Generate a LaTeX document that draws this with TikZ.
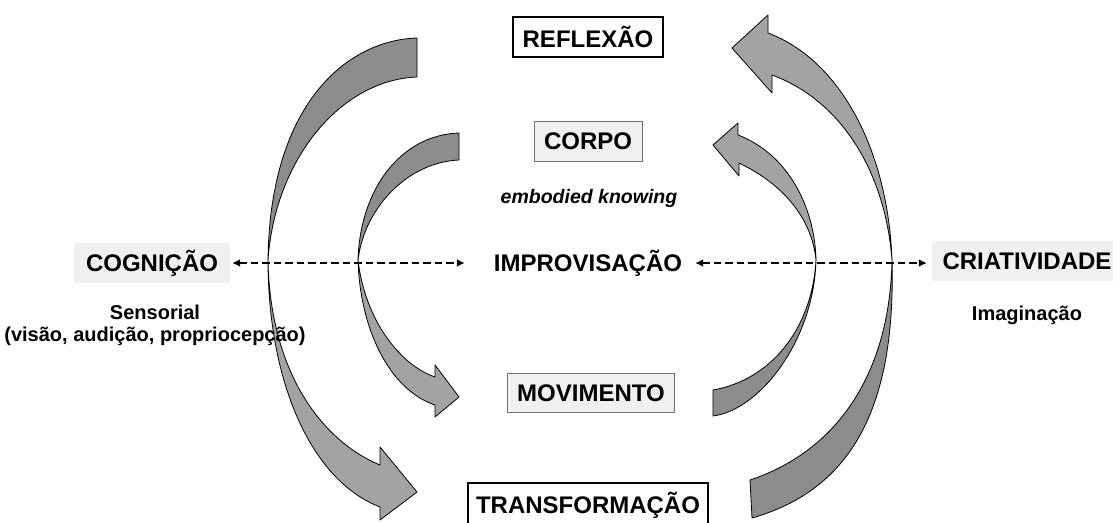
\documentclass[tikz,border=0pt]{standalone}
\usepackage{fontspec}
\setmainfont{Liberation Sans}
\usetikzlibrary{arrows.meta,calc}
\definecolor{ribbondark}{gray}{0.55}
\definecolor{ribbonlight}{gray}{0.64}
\definecolor{boxgray}{gray}{0.94}

\begin{document}
\begin{tikzpicture}[x=1pt,y=-1pt]
\tikzstyle{ribbon} = [draw=black, line width=0.8pt, line join=round]
\tikzstyle{term} = [font=\fontsize{24}{28}\selectfont\bfseries, inner sep=3pt, minimum height=40pt]
\tikzstyle{framed} = [term, draw=black, line width=1.8pt, fill=white]
\tikzstyle{soft} = [term, draw=black!55, line width=1pt, fill=boxgray]
\tikzstyle{plain} = [term, fill=boxgray]
\tikzstyle{subnote} = [font=\fontsize{20}{22}\selectfont\bfseries, align=center]
\tikzstyle{link} = [line width=2.2pt, dash pattern=on 7.5pt off 4pt, {Latex[length=8pt,width=8pt]}-{Latex[length=8pt,width=8pt]}]
\useasboundingbox (0,0) rectangle (1113,522);
\coordinate (LO) at (268,260);
\coordinate (LI) at (358,260);
\coordinate (RI) at (816,260);
\coordinate (RO) at (892,260);
\filldraw[ribbon, fill=ribbondark] (417,38) .. controls (350,40) and (270,100) .. (LO) .. controls (275,160) and (340,80) .. (417,77) -- cycle;
\filldraw[ribbon, fill=ribbonlight] (LO) .. controls (268,380) and (310,480) .. (380,507) -- (380,520) -- (417,492) -- (380,447) -- (380,465) .. controls (320,440) and (270,370) .. (LO) -- cycle;
\filldraw[ribbon, fill=ribbondark] (459,133) .. controls (400,135) and (360,190) .. (LI) .. controls (365,205) and (410,162) .. (459,160) -- cycle;
\filldraw[ribbon, fill=ribbonlight] (LI) .. controls (360,330) and (390,390) .. (435,405) -- (435,417) -- (459,397) -- (435,365) -- (435,377) .. controls (400,365) and (365,320) .. (LI) -- cycle;
\filldraw[ribbon, fill=ribbonlight] (RO) .. controls (888,150) and (840,60) .. (768,33) -- (768,15) -- (732,48) -- (772,93) -- (772,75) .. controls (840,100) and (885,170) .. (RO) -- cycle;
\filldraw[ribbon, fill=ribbondark] (RO) .. controls (896,410) and (850,490) .. (752,518) -- (750,480) .. controls (840,450) and (890,370) .. (RO) -- cycle;
\filldraw[ribbon, fill=ribbonlight] (RI) .. controls (815,210) and (790,155) .. (738,135) -- (738,123) -- (713,145) -- (739,176) -- (739,163) .. controls (785,185) and (812,220) .. (RI) -- cycle;
\filldraw[ribbon, fill=ribbondark] (RI) .. controls (814,340) and (760,410) .. (713,416) -- (713,390) .. controls (770,380) and (812,330) .. (RI) -- cycle;
\node[framed, minimum width=150pt] (refl) at (588,37) {REFLEXÃO};
\node[soft, minimum width=108pt] (corpo) at (588,141) {CORPO};
\node[font=\fontsize{19.5}{22}\selectfont\bfseries\itshape] (emb) at (589,198) {embodied knowing};
\node[term] (impro) at (588,263) {IMPROVISAÇÃO};
\node[soft, minimum width=167pt, minimum height=39pt] (movi) at (591,393) {MOVIMENTO};
\node[framed, minimum width=240pt, minimum height=44pt] (trans) at (588,505) {TRANSFORMAÇÃO};
\node[plain, minimum width=156pt] (cog) at (152,263) {COGNIÇÃO};
\node[subnote] (sens) at (155,325) {Sensorial\\(visão, audição, propriocepção)};
\node[plain, minimum width=190pt] (cria) at (1027,261) {CRIATIVIDADE};
\node[subnote] (imag) at (1027,315) {Imaginação};
\draw[link, shorten <=2pt, shorten >=26pt] (cog.east) -- (cog.east -| impro.west);
\draw[link, shorten <=10pt, shorten >=5pt] (impro.east) -- (impro.east -| cria.west);
\end{tikzpicture}
\end{document}
